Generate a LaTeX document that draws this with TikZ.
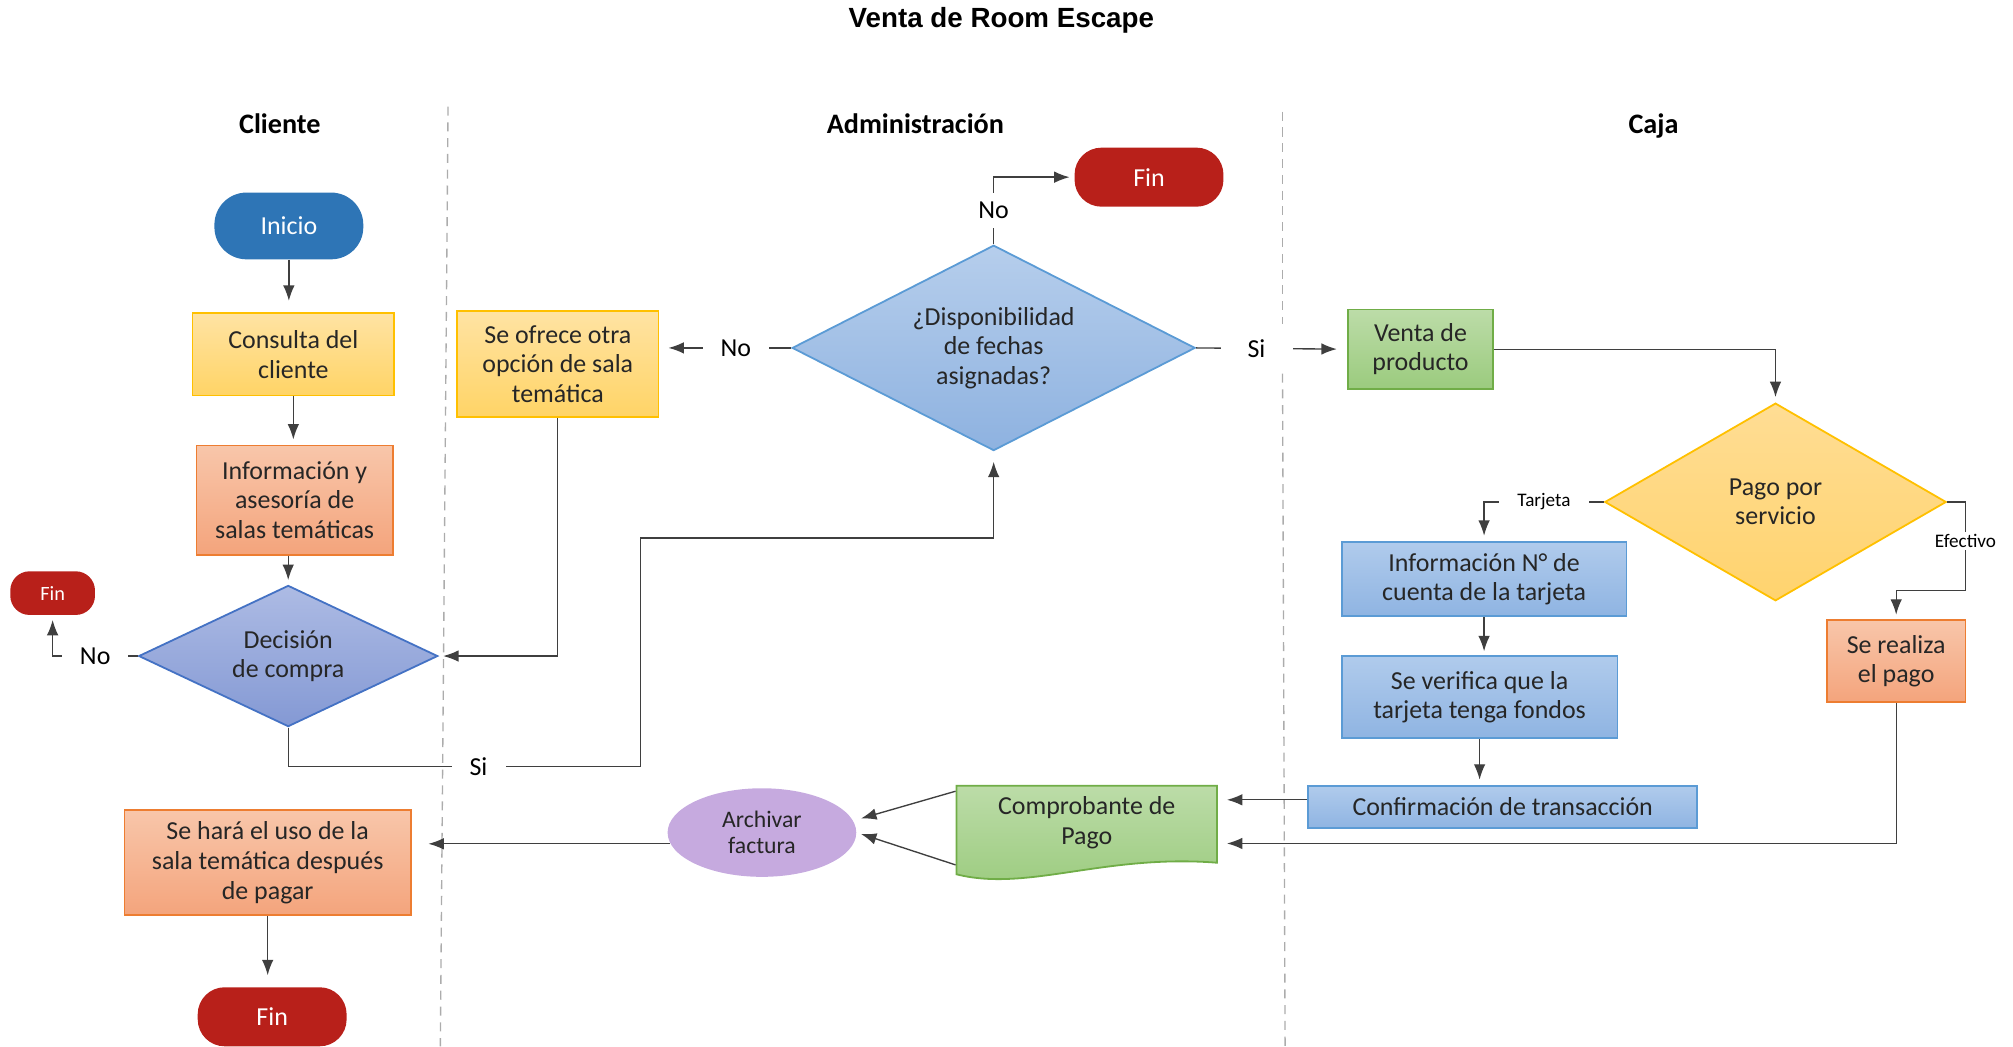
\documentclass[tikz,border=0pt]{standalone}
\usepackage{fontspec}
\setmainfont{Carlito}
\newfontfamily\titlefont{Liberation Sans}
\usetikzlibrary{shapes.geometric, arrows.meta}

\definecolor{azulInicio}{HTML}{2E75B6}
\definecolor{rojoFin}{HTML}{B8201A}
\definecolor{amaA}{HTML}{FFE3A3}
\definecolor{amaB}{HTML}{FFD466}
\definecolor{amaBorde}{HTML}{FFC000}
\definecolor{pagoA}{HTML}{FFDD94}
\definecolor{pagoB}{HTML}{FFD36E}
\definecolor{salA}{HTML}{F8C6AA}
\definecolor{salB}{HTML}{F4A47C}
\definecolor{salBorde}{HTML}{ED7D31}
\definecolor{azA}{HTML}{B0CBEC}
\definecolor{azB}{HTML}{8FB4E2}
\definecolor{azBorde}{HTML}{5B9BD5}
\definecolor{dispA}{HTML}{B6CEEC}
\definecolor{dispB}{HTML}{8EB2E0}
\definecolor{decA}{HTML}{ADBBE4}
\definecolor{decB}{HTML}{8499D4}
\definecolor{decBorde}{HTML}{4472C4}
\definecolor{verA}{HTML}{BCDCA8}
\definecolor{verB}{HTML}{9BCB7E}
\definecolor{verBorde}{HTML}{70AD47}
\definecolor{lila}{HTML}{C6AADF}
\definecolor{linea}{HTML}{3F3F3F}

\begin{document}
\begin{tikzpicture}[x=0.02cm, y=-0.02cm,
  caja/.style={rectangle, line width=0.8pt, align=center, text=black!85, inner sep=1pt,
    font=\fontsize{11.5}{13.1}\selectfont},
  amarilla/.style={caja, draw=amaBorde, top color=amaA, bottom color=amaB},
  salmon/.style={caja, draw=salBorde, top color=salA, bottom color=salB},
  azul/.style={caja, draw=azBorde, top color=azA, bottom color=azB},
  verde/.style={caja, draw=verBorde, top color=verA, bottom color=verB},
  rombo/.style={caja, diamond, aspect=2, inner sep=0pt},
  fin/.style={rectangle, rounded corners=0.42cm, fill=rojoFin, text=white,
    minimum width=2.32cm, minimum height=0.92cm, font=\fontsize{11.5}{13}\selectfont},
  flecha/.style={draw=linea, line width=0.6pt, -{Latex[length=2.4mm,width=1.8mm]}, shorten >=2pt},
  etiq/.style={fill=white, inner xsep=8pt, inner ysep=1pt, text=black, font=\fontsize{11.5}{13}\selectfont},
  etiqchica/.style={etiq, font=\fontsize{8.5}{10}\selectfont},
  carril/.style={draw=gray!65, line width=0.6pt, dash pattern=on 4pt off 3pt},
  encabezado/.style={anchor=base, font=\bfseries\fontsize{12.5}{14}\selectfont}
]
\useasboundingbox (0,0) rectangle (1568,815);

\node[font=\titlefont\bfseries\fontsize{12.3}{14}\selectfont] (titulo) at (780,16) {Venta de Room Escape};
\node[encabezado] (hcliente) at (218,104) {Cliente};
\node[encabezado] (hadmin) at (713,104) {Administración};
\node[encabezado] (hcaja) at (1288,104) {Caja};

\draw[carril] (349,83) -- (343,815);
\draw[carril] (999,87) -- (999,252);
\draw[carril] (999,291) -- (1001,815);

% Cliente
\node[fin, fill=azulInicio, minimum height=1.04cm, rounded corners=0.5cm] (inicio) at (225,176) {Inicio};
\node[amarilla, minimum width=3.14cm, minimum height=1.28cm] (consulta) at (228.5,276) {Consulta del\\cliente};
\node[salmon, minimum width=3.06cm, minimum height=1.70cm] (asesoria) at (229.5,389.5) {Información y\\asesoría de\\salas temáticas};
\node[rombo, draw=decBorde, top color=decA, bottom color=decB, minimum width=4.66cm, minimum height=2.2cm] (decision) at (224.5,511) {Decisión\\de compra};
\node[fin, minimum width=1.32cm, minimum height=0.68cm, rounded corners=0.3cm, font=\fontsize{9}{10}\selectfont] (finizq) at (41,462) {Fin};
\node[salmon, minimum width=4.46cm, minimum height=1.64cm] (uso) at (208.5,672) {Se hará el uso de la\\sala temática después\\de pagar};
\node[fin] (fininf) at (212,792) {Fin};

% Administracion
\node[amarilla, minimum width=3.14cm, minimum height=1.66cm] (otra) at (434.5,283.5) {Se ofrece otra\\opción de sala\\temática};
\node[rombo, draw=azBorde, top color=dispA, bottom color=dispB, minimum width=6.28cm, minimum height=3.2cm] (disp) at (774,271) {¿Disponibilidad\\de fechas\\asignadas?};
\node[fin] (finsup) at (895,138) {Fin};
\node[ellipse, fill=lila, minimum width=2.94cm, minimum height=1.38cm, align=center, text=black!85,
  font=\fontsize{10.5}{11.4}\selectfont] (archivar) at (593.5,648.5) {Archivar\\factura};
\path[draw=verBorde, line width=0.8pt, top color=verA, bottom color=verB]
  (745,612) -- (948,612) -- (948,672) .. controls (860,665) and (800,695) .. (745,681) -- cycle;
\node[caja, minimum width=4.06cm, minimum height=1.16cm] (comprobante) at (846.5,641) {Comprobante de\\Pago};

% Caja
\node[verde, minimum width=2.26cm, minimum height=1.24cm] (venta) at (1106.5,272) {Venta de\\producto};
\node[rombo, draw=amaBorde, top color=pagoA, bottom color=pagoB, minimum width=5.32cm, minimum height=3.08cm] (pago) at (1383,391) {Pago por\\servicio};
\node[azul, minimum width=4.44cm, minimum height=1.16cm] (cuenta) at (1156,451) {Información N° de\\cuenta de la tarjeta};
\node[azul, minimum width=4.30cm, minimum height=1.28cm] (fondos) at (1152.5,543) {Se verifica que la\\tarjeta tenga fondos};
\node[azul, minimum width=6.06cm, minimum height=0.66cm] (confirma) at (1170.5,628.5) {Confirmación de transacción};
\node[salmon, minimum width=2.16cm, minimum height=1.28cm] (realiza) at (1477,515) {Se realiza\\el pago};

% conectores
\draw[flecha, shorten >=0.18cm] (inicio.south) -- (inicio.south |- consulta.north);
\draw[flecha, shorten >=0.08cm] (consulta.south) -- (consulta.south |- asesoria.north);
\draw[flecha] (asesoria.south -| decision.north) -- (decision.north);
\draw[flecha, shorten >=0.18cm] (uso.south) -- (uso.south |- fininf.north);
\draw[flecha] (decision.west) -- node[etiq]{No} (decision.west -| finizq.south) -- (finizq.south);
\draw[flecha] (otra.south) |- (decision.east);
\draw[flecha, shorten >=0.16cm] (decision.south) |- node[etiq, pos=0.77]{Si} (499,597) |- (disp.south |- 0,419) -- (disp.south);
\draw[flecha, shorten >=0.14cm] (disp.west) -- node[etiq, pos=0.42]{No} (disp.west -| otra.east);
\draw[flecha] (disp.north) -- node[etiq, inner xsep=1pt, inner ysep=4pt]{No} (disp.north |- finsup.west) -- (finsup.west);
\draw[flecha, shorten >=0.16cm] (disp.east) -- node[etiq, pos=0.4, inner xsep=12pt]{Si} (venta.west);
\draw[flecha, shorten >=0.08cm] (venta.east) -| (pago.north);
\draw[flecha, shorten >=0.08cm] (pago.west) -- node[etiqchica]{Tarjeta} (pago.west -| cuenta.north) -- (cuenta.north);
\draw[flecha] (pago.east) -| node[etiqchica, pos=0.72, inner xsep=1pt]{Efectivo} (1531,460) -| (realiza.north);
\draw[flecha, shorten >=0.06cm] (cuenta.south) -- (cuenta.south |- fondos.north);
\draw[flecha, shorten >=0.08cm] (fondos.south) -- (fondos.south |- confirma.north);
\draw[flecha, shorten >=0.14cm] ([yshift=0.11cm]confirma.west) -- ([yshift=0.11cm]confirma.west -| comprobante.east);
\draw[flecha, shorten >=0.14cm] (realiza.south) |- ([yshift=-0.32cm]comprobante.east);
\draw[flecha] ([yshift=-0.1cm]comprobante.north west) -- ([yshift=0.2cm]archivar.east);
\draw[flecha] ([yshift=-0.06cm]comprobante.south west) -- (archivar.east);
\draw[flecha, shorten >=0.26cm] (archivar.187) -- (archivar.187 -| uso.east);
\end{tikzpicture}
\end{document}
